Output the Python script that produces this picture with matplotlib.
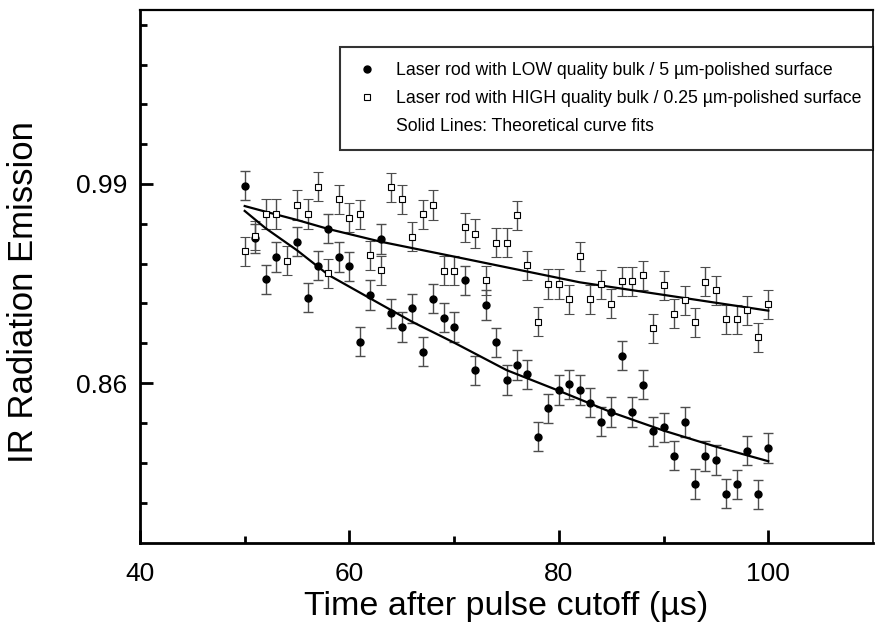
import numpy as np
import matplotlib
matplotlib.use("Agg")
import matplotlib.pyplot as plt
from matplotlib.lines import Line2D
from matplotlib.ticker import FixedLocator

plt.rcParams['font.family'] = ['Liberation Sans', 'DejaVu Sans']

# low quality bulk / 5 um polished (filled circles)
t_low = [50, 51, 52, 53, 55, 56, 57, 58, 59, 60, 61, 62, 63, 64, 65, 66, 67, 68, 69, 70,
         71, 72, 73, 74, 75, 76, 77, 78, 79, 80, 81, 82, 83, 84, 85, 86, 87, 88, 89, 90,
         91, 92, 93, 94, 95, 96, 97, 98, 99, 100]
y_low = [0.9889, 0.9545, 0.9278, 0.9423, 0.9523, 0.9156, 0.9365, 0.9609, 0.9423, 0.9363,
         0.8870, 0.9175, 0.9541, 0.9056, 0.8966, 0.9090, 0.8805, 0.9151, 0.9027, 0.8966,
         0.9271, 0.8685, 0.9110, 0.8866, 0.8620, 0.8718, 0.8657, 0.8250, 0.8435, 0.8555,
         0.8592, 0.8555, 0.8472, 0.8348, 0.8411, 0.8779, 0.8411, 0.8589, 0.8285, 0.8311,
         0.8126, 0.8346, 0.7941, 0.8124, 0.8098, 0.7878, 0.7939, 0.8158, 0.7874, 0.8176]
err_low = 0.0095

# high quality bulk / 0.25 um polished (open squares)
t_high = list(range(50, 101))
y_high = [0.9462, 0.9562, 0.9704, 0.9704, 0.9399, 0.9763, 0.9704, 0.9882, 0.9317, 0.9800,
          0.9680, 0.9702, 0.9436, 0.9336, 0.9880, 0.9800, 0.9556, 0.9702, 0.9763, 0.9334,
          0.9334, 0.9617, 0.9575, 0.9271, 0.9517, 0.9517, 0.9696, 0.9369, 0.9001, 0.9247,
          0.9247, 0.9147, 0.9428, 0.9147, 0.9245, 0.9118, 0.9265, 0.9265, 0.9304, 0.8958,
          0.9240, 0.9053, 0.9141, 0.8997, 0.9262, 0.9206, 0.9016, 0.9016, 0.9075, 0.8899,
          0.9114]
err_high = 0.0095

# theoretical fits
fit_low_t = [50, 52, 55, 58, 63, 66, 70, 75, 80, 85, 90, 95, 100]
fit_low_y = [0.9724, 0.9611, 0.9467, 0.9306, 0.9114, 0.9000, 0.8864, 0.8685, 0.8550,
             0.8410, 0.8290, 0.8185, 0.8090]
fit_high_t = [50, 52, 55, 58, 63, 70, 82, 90, 100]
fit_high_y = [0.9756, 0.9719, 0.9665, 0.9606, 0.9523, 0.9426, 0.9258, 0.9176, 0.9073]

fig = plt.figure(figsize=(8.77, 6.31), dpi=100)
ax = fig.add_axes([140/877, 88/631, 733/877, 533/631])

ax.errorbar(t_low, y_low, yerr=err_low, fmt='o', ms=5, mfc='black', mec='black',
            ecolor='0.3', elinewidth=1.0, capsize=3.3, capthick=1.0)
ax.errorbar(t_high, y_high, yerr=err_high, fmt='s', ms=5, mfc='white', mec='black',
            mew=0.8, ecolor='0.3', elinewidth=1.0, capsize=3.3, capthick=1.0)
ax.plot(fit_low_t, fit_low_y, color='black', lw=1.6)
ax.plot(fit_high_t, fit_high_y, color='black', lw=1.6)

ax.set_xlim(40, 110)
ax.set_ylim(0.7556, 1.1036)
ax.set_xticks([40, 60, 80, 100])
ax.xaxis.set_minor_locator(FixedLocator([50, 70, 90]))
ax.set_yticks([0.86, 0.99])
ax.set_yticklabels(['0.86', '0.99'])
ax.yaxis.set_minor_locator(FixedLocator(np.arange(0.782, 1.1, 0.026)))

ax.tick_params(which='both', direction='in', width=2, labelsize=19)
ax.tick_params(which='major', length=9.5)
ax.tick_params(which='minor', length=5)
ax.tick_params(axis='x', pad=14)
ax.tick_params(axis='y', pad=9)
for s in ax.spines.values():
    s.set_linewidth(2)
ax.spines['top'].set_linewidth(1.6)
ax.spines['right'].set_linewidth(1.2)

ax.set_xlabel('Time after pulse cutoff (\u00b5s)', fontsize=24.5)
ax.set_ylabel('IR Radiation Emission', fontsize=25)
ax.yaxis.set_label_coords(-0.137, 0.47)
ax.xaxis.set_label_coords(0.5, -0.09)

handles = [
    Line2D([], [], marker='o', ls='none', ms=5, color='black'),
    Line2D([], [], marker='s', ls='none', ms=5, mfc='white', mec='black', mew=0.8),
    Line2D([], [], ls='none'),
]
labels = [
    'Laser rod with LOW quality bulk / 5 \u00b5m-polished surface',
    'Laser rod with HIGH quality bulk / 0.25 \u00b5m-polished surface',
    'Solid Lines: Theoretical curve fits',
]
leg = ax.legend(handles, labels, loc='upper left', bbox_to_anchor=(0.273, 0.7448, 0.727, 0.1858),
                mode='expand', borderaxespad=0, fontsize=12.7, frameon=True, fancybox=False,
                borderpad=0.85, handlelength=1.4, handletextpad=0.9, labelspacing=0.62)
leg.get_frame().set_edgecolor('black')
leg.get_frame().set_linewidth(1.5)

fig.savefig('out.png', dpi=100)
